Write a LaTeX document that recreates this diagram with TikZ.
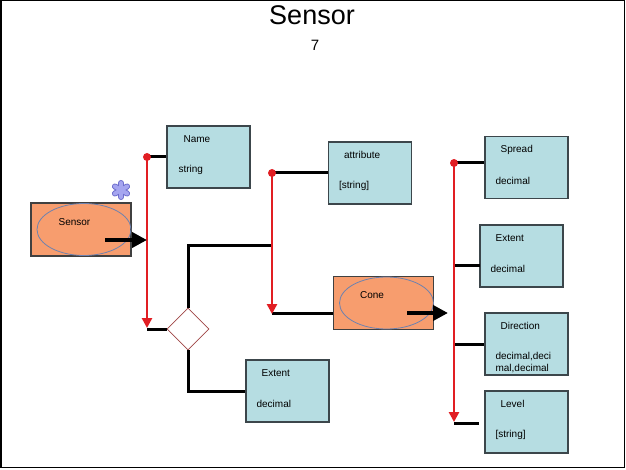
\documentclass[tikz,border=0pt]{standalone}
\usepackage{fontspec}
\setmainfont{Liberation Sans}
\usepackage{tikz}
\usetikzlibrary{
  arrows.meta,
  positioning,
  shapes.geometric
}
\definecolor{boxblue}{RGB}{182,221,226}
\definecolor{boxedge}{RGB}{60,70,75}
\definecolor{nodeorange}{RGB}{247,157,110}
\definecolor{ovaledge}{RGB}{110,130,175}
\definecolor{busred}{RGB}{225,30,35}
\definecolor{choiceedge}{RGB}{160,70,70}
\definecolor{starfill}{RGB}{165,165,240}
\definecolor{staredge}{RGB}{110,110,205}

\begin{document}
\begin{tikzpicture}[
  x=1pt, y=-1pt,
  attr/.style={draw=boxedge,line width=1.2pt,fill=boxblue,minimum width=83pt,
               minimum height=62pt,inner sep=0pt},
  elem/.style={draw=black!75,line width=1.2pt,fill=nodeorange,minimum width=100pt,
               minimum height=53pt,inner sep=0pt},
  oval/.style={ellipse,draw=ovaledge,line width=0.8pt,minimum width=94pt,
               minimum height=52pt,inner sep=0pt},
  choice/.style={diamond,draw=choiceedge,line width=0.8pt,fill=white,
                 minimum width=42pt,minimum height=42pt,inner sep=0pt},
  lbl/.style={anchor=west,inner sep=0pt,font=\fontsize{10}{12}\selectfont,align=left},
  link/.style={line width=3pt,black},
  bus/.style={busred,line width=2.5pt,-{Triangle[length=10pt,width=10pt]}},
  push/.style={line width=4pt,-{Triangle[length=15pt,width=15pt]}},
]
\useasboundingbox (0,0) rectangle (626,470);
\draw[line width=1.5pt] (0.75,0.75) rectangle (624.5,467.5);

% heading
\node[font=\fontsize{27}{30}\selectfont,inner sep=0pt] (title) at (312,15) {Sensor};
\node[font=\fontsize{15}{17}\selectfont,inner sep=0pt] (count) at (315,45) {7};

% element nodes
\node[elem] (sensor) at (81,229.5) {};
\node[oval] at ([xshift=3pt]sensor.center) {};
\node[lbl] (sensorT) at ([shift={(28,20)}]sensor.north west) {Sensor};
\node[elem] (cone) at (383.5,303) {};
\node[oval] at ([xshift=3pt]cone.center) {};
\node[lbl] (coneT) at ([shift={(27,19)}]cone.north west) {Cone};

% attribute boxes
\node[attr] (name)    at (208.5,157) {};
\node[attr] (attrib)  at (370,173)   {};
\node[attr] (extentA) at (287.5,391) {};
\node[attr] (spread)  at (526.5,167.5) {};
\node[attr] (extentB) at (521.5,256) {};
\node[attr] (dir)     at (526.5,344) {};
\node[attr] (level)   at (526.5,422) {};

\node[lbl] (nameT)    at ([shift={(17,14)}]name.north west)    {Name};
\node[lbl] (nameV)    at ([shift={(12,45)}]name.north west)    {string};
\node[lbl] (attribT)  at ([shift={(16,14)}]attrib.north west)  {attribute};
\node[lbl] (attribV)  at ([shift={(11,45)}]attrib.north west)  {[string]};
\node[lbl] (extentAT) at ([shift={(16,14)}]extentA.north west) {Extent};
\node[lbl] (extentAV) at ([shift={(11,45)}]extentA.north west) {decimal};
\node[lbl] (spreadT)  at ([shift={(16,14)}]spread.north west)  {Spread};
\node[lbl] (spreadV)  at ([shift={(11,45)}]spread.north west)  {decimal};
\node[lbl] (extentBT) at ([shift={(16,14)}]extentB.north west) {Extent};
\node[lbl] (extentBV) at ([shift={(11,45)}]extentB.north west) {decimal};
\node[lbl] (dirT)     at ([shift={(16,14)}]dir.north west)     {Direction};
\node[lbl,anchor=north west] (dirV) at ([shift={(11,40)}]dir.north west)
  {decimal,deci\\mal,decimal};
\node[lbl] (levelT)   at ([shift={(16,14)}]level.north west)   {Level};
\node[lbl] (levelV)   at ([shift={(11,45)}]level.north west)   {[string]};

% choice
\node[choice] (pick) at (188,329) {};

% bus ends
\coordinate (busAtop) at (147,157);
\coordinate (busAbot) at (147,328);
\coordinate (busBtop) at (272,173);
\coordinate (busBmid) at (272,246);
\coordinate (busBbot) at (272,314);
\coordinate (busCtop) at (454,163);
\coordinate (busCbot) at (454,422);
\coordinate (sensorOut) at (105,240);
\coordinate (coneOut) at (407,313);
\coordinate (coneTip) at (448,313);

% links
\draw[link] (busAtop) -- (name.west);
\draw[link] (busAbot |- pick.west) -- (pick.west);
\draw[link] (pick.north) |- (busBmid);
\draw[link] (pick.south) |- (extentA.west);
\draw[link] (busBtop) -- (attrib.west);
\draw[link] (busBbot |- coneOut) -- (busBbot |- coneOut -| cone.west);
\draw[link] (busCtop) -- (busCtop -| spread.west);
\draw[link] (busCtop |- extentB.west) ++(0,10) -- ++(26,0);
\draw[link] (busCtop |- dir.west) -- (dir.west);
\draw[link] (busCbot) ++(0,1) -- ++(25,0);

% buses
\draw[bus] (busAtop) -- (busAbot);
\draw[bus] (busBtop) -- (busBbot);
\draw[bus] (busCtop) -- (busCbot);
\foreach \p in {busAtop,busBtop,busCtop}
  \fill[busred] (\p) circle (4pt);

% outputs
\draw[push] (sensorOut) -- (sensorOut -| busAtop);
\draw[push] (coneOut) -- (coneTip);

% star mark
\begin{scope}[shift={(121,190)}]
  \foreach \a in {90,30,150}
    \draw[staredge,line width=6pt,line cap=round] (\a:7) -- (\a+180:7);
  \foreach \a in {90,30,150}
    \draw[starfill,line width=4pt,line cap=round] (\a:7) -- (\a+180:7);
\end{scope}
\end{tikzpicture}
\end{document}
